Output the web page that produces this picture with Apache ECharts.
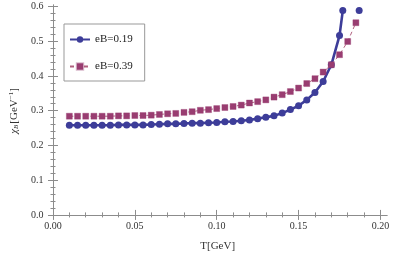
<!DOCTYPE html>
<html><head><meta charset="utf-8">
<script src="https://cdn.jsdelivr.net/npm/echarts@6/dist/echarts.min.js"></script>
<style>html,body{margin:0;padding:0;background:#fff}#c{width:415px;height:257px}</style>
</head><body><div id="c"></div>
<script>
const blueT   = [0.010,0.015,0.020,0.025,0.030,0.035,0.040,0.045,0.050,0.055,0.060,0.065,0.070,0.075,0.080,0.085,0.090,0.095,0.100,0.105,0.110,0.115,0.120,0.125,0.130,0.135,0.140,0.145,0.150,0.155,0.160,0.165,0.170,0.175,0.177,0.182,0.187];
const blueVal = [0.258,0.258,0.258,0.258,0.258,0.258,0.259,0.259,0.259,0.259,0.260,0.261,0.262,0.262,0.263,0.264,0.264,0.265,0.266,0.268,0.269,0.271,0.273,0.277,0.281,0.285,0.293,0.303,0.314,0.331,0.352,0.384,0.432,0.516,0.588,null,0.588];
const pinkT   = [0.010,0.015,0.020,0.025,0.030,0.035,0.040,0.045,0.050,0.055,0.060,0.065,0.070,0.075,0.080,0.085,0.090,0.095,0.100,0.105,0.110,0.115,0.120,0.125,0.130,0.135,0.140,0.145,0.150,0.155,0.160,0.165,0.170,0.175,0.180,0.185];
const pinkVal = [0.284,0.284,0.284,0.284,0.284,0.284,0.285,0.285,0.286,0.286,0.287,0.289,0.291,0.292,0.295,0.297,0.301,0.303,0.306,0.309,0.312,0.316,0.322,0.326,0.331,0.339,0.346,0.355,0.365,0.378,0.392,0.411,0.432,0.461,0.499,0.553];
const xMajor = [0, 0.05, 0.10, 0.15, 0.20];
const xMinor = [0.01,0.02,0.03,0.04,0.06,0.07,0.08,0.09,0.11,0.12,0.13,0.14,0.16,0.17,0.18,0.19];
const yMajor = [0, 0.1, 0.2, 0.3, 0.4, 0.5, 0.6];
const yMinor = [0.02,0.04,0.06,0.08,0.12,0.14,0.16,0.18,0.22,0.24,0.26,0.28,0.32,0.34,0.36,0.38,0.42,0.44,0.46,0.48,0.52,0.54,0.56,0.58];
const names = ['eB=0.19', 'eB=0.39'];

const frame = '#8c8c8c';
const font = 'Liberation Serif';
const X0 = -0.0028, X1 = 0.204, Y0 = -0.006, Y1 = 0.604;

function xa(pos, vals, len, labels, extra) {
  return Object.assign({
    type: 'value', position: pos, min: X0, max: X1,
    axisLine: {show: len > 3, lineStyle: {color: frame, width: 1}},
    axisTick: {show: true, inside: true, length: len, customValues: vals, lineStyle: {color: frame}},
    axisLabel: labels ? {show: true, customValues: vals, margin: 4, color: '#333', fontFamily: font, fontSize: 10,
      formatter: v => v.toFixed(2)} : {show: false},
    splitLine: {show: false}
  }, extra || {});
}
function ya(pos, vals, len, labels, extra) {
  return Object.assign({
    type: 'value', position: pos, min: Y0, max: Y1,
    axisLine: {show: len > 3, lineStyle: {color: frame, width: 1}},
    axisTick: {show: true, inside: true, length: len, customValues: vals, lineStyle: {color: frame}},
    axisLabel: labels ? {show: true, customValues: vals, margin: 5, color: '#333', fontFamily: font, fontSize: 10,
      formatter: v => v.toFixed(1)} : {show: false},
    splitLine: {show: false}
  }, extra || {});
}

const chart = echarts.init(document.getElementById('c'), null, {renderer: 'canvas'});
chart.setOption({
  animation: false,
  grid: {left: 42, right: 28, top: 5, bottom: 40},
  legend: {
    orient: 'vertical', left: 64, top: 24,
    padding: [10, 12, 9, 5], itemGap: 16, itemWidth: 20, itemHeight: 8,
    borderColor: '#999', borderWidth: 1,
    textStyle: {fontFamily: font, fontSize: 11, color: '#222'},
    data: names
  },
  xAxis: [
    xa('bottom', xMajor, 5, true, {name: 'T[GeV]', nameLocation: 'middle', nameGap: 24,
      nameTextStyle: {fontFamily: font, fontSize: 11, color: '#333'}}),
    xa('bottom', xMinor, 2.5, false),
    xa('top', xMajor, 5, false),
    xa('top', xMinor, 2.5, false)
  ],
  yAxis: [
    ya('left', yMajor, 5, true, {
      name: '{c|χ}{s|B}{n|[GeV}{p|−1}{n|]}', nameLocation: 'middle', nameGap: 27, nameRotate: 90,
      nameTextStyle: {fontFamily: font, fontSize: 11, color: '#333', rich: {
        c: {fontFamily: font, fontSize: 11, fontStyle: 'italic', color: '#333'},
        s: {fontFamily: font, fontSize: 7, fontStyle: 'italic', color: '#333', verticalAlign: 'bottom', padding: [5, 1, 0, 0]},
        n: {fontFamily: font, fontSize: 11, color: '#333'},
        p: {fontFamily: font, fontSize: 7, color: '#333', verticalAlign: 'top', padding: [0, 0, 5, 0]}
      }}}),
    ya('left', yMinor, 2.5, false),
    ya('right', yMajor, 5, false),
    ya('right', yMinor, 2.5, false)
  ],
  series: [
    {
      name: names[0], type: 'line', xAxisIndex: 0, yAxisIndex: 0,
      data: blueT.map((t, i) => [t, blueVal[i]]),
      connectNulls: false,
      symbol: 'circle', symbolSize: 7,
      itemStyle: {color: '#3d3d99'},
      lineStyle: {color: '#3d3d99', width: 2.6},
      z: 2
    },
    {
      name: names[1], type: 'line', xAxisIndex: 0, yAxisIndex: 0,
      data: pinkT.map((t, i) => [t, pinkVal[i]]),
      symbol: 'rect', symbolSize: 6,
      itemStyle: {color: '#993d71', borderColor: 'rgba(153,61,113,0.35)', borderWidth: 1},
      lineStyle: {color: '#b0607f', width: 1, type: [4, 3]},
      z: 3
    }
  ]
});
</script></body></html>
